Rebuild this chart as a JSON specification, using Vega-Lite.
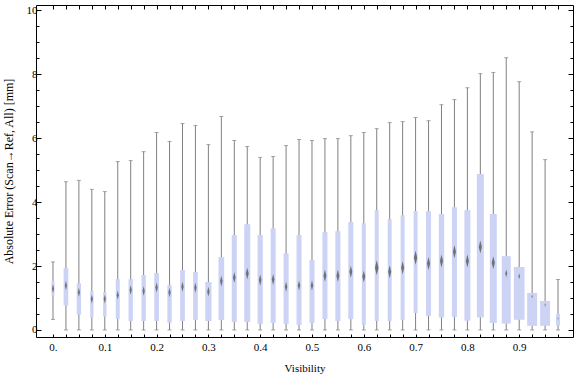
{
  "$schema": "https://vega.github.io/schema/vega-lite/v6.json",
  "width": 537,
  "height": 332,
  "autosize": {"type": "none"},
  "padding": {"left": 36, "top": 5, "right": 3, "bottom": 40},
  "background": "white",
  "config": {
    "view": {"stroke": "#000000", "strokeWidth": 1},
    "axis": {
      "domain": false,
      "grid": false,
      "labelFont": "Liberation Serif",
      "labelFontSize": 11,
      "labelColor": "#000000",
      "titleFont": "Liberation Serif",
      "titleFontSize": 11,
      "titleFontWeight": "normal",
      "titleColor": "#000000",
      "tickColor": "#000000",
      "tickWidth": 1
    }
  },
  "data": {
    "values": [
      {"v": 0.000, "lo": 0.33, "q1": 1.08, "med": 1.29, "q3": 1.54, "hi": 2.13, "n": 0.25, "ci": 0.140},
      {"v": 0.025, "lo": 0, "q1": 0.77, "med": 1.39, "q3": 1.93, "hi": 4.64, "n": 0.39, "ci": 0.140},
      {"v": 0.050, "lo": 0, "q1": 0.48, "med": 1.18, "q3": 1.46, "hi": 4.68, "n": 0.36, "ci": 0.140},
      {"v": 0.075, "lo": 0, "q1": 0.39, "med": 0.97, "q3": 1.22, "hi": 4.40, "n": 0.28, "ci": 0.140},
      {"v": 0.100, "lo": 0, "q1": 0.42, "med": 0.97, "q3": 1.18, "hi": 4.33, "n": 0.28, "ci": 0.140},
      {"v": 0.125, "lo": 0, "q1": 0.34, "med": 1.09, "q3": 1.59, "hi": 5.27, "n": 0.33, "ci": 0.140},
      {"v": 0.150, "lo": 0, "q1": 0.28, "med": 1.25, "q3": 1.59, "hi": 5.30, "n": 0.36, "ci": 0.148},
      {"v": 0.175, "lo": 0, "q1": 0.28, "med": 1.22, "q3": 1.72, "hi": 5.58, "n": 0.36, "ci": 0.148},
      {"v": 0.200, "lo": 0, "q1": 0.28, "med": 1.33, "q3": 1.78, "hi": 6.18, "n": 0.39, "ci": 0.156},
      {"v": 0.225, "lo": 0, "q1": 0.22, "med": 1.17, "q3": 1.41, "hi": 5.90, "n": 0.36, "ci": 0.148},
      {"v": 0.250, "lo": 0, "q1": 0.28, "med": 1.35, "q3": 1.88, "hi": 6.46, "n": 0.39, "ci": 0.156},
      {"v": 0.275, "lo": 0, "q1": 0.31, "med": 1.32, "q3": 1.81, "hi": 6.40, "n": 0.39, "ci": 0.156},
      {"v": 0.300, "lo": 0, "q1": 0.28, "med": 1.20, "q3": 1.50, "hi": 5.80, "n": 0.52, "ci": 0.156},
      {"v": 0.325, "lo": 0, "q1": 0.31, "med": 1.53, "q3": 2.28, "hi": 6.68, "n": 0.47, "ci": 0.167},
      {"v": 0.350, "lo": 0, "q1": 0.25, "med": 1.64, "q3": 2.97, "hi": 5.93, "n": 0.42, "ci": 0.172},
      {"v": 0.375, "lo": 0, "q1": 0.25, "med": 1.77, "q3": 3.31, "hi": 5.74, "n": 0.50, "ci": 0.188},
      {"v": 0.400, "lo": 0, "q1": 0.19, "med": 1.56, "q3": 2.97, "hi": 5.40, "n": 0.44, "ci": 0.172},
      {"v": 0.425, "lo": 0, "q1": 0.22, "med": 1.58, "q3": 3.18, "hi": 5.43, "n": 0.42, "ci": 0.172},
      {"v": 0.450, "lo": 0, "q1": 0.19, "med": 1.35, "q3": 2.40, "hi": 5.77, "n": 0.42, "ci": 0.156},
      {"v": 0.475, "lo": 0, "q1": 0.16, "med": 1.39, "q3": 2.97, "hi": 5.96, "n": 0.42, "ci": 0.156},
      {"v": 0.500, "lo": 0, "q1": 0.22, "med": 1.39, "q3": 2.19, "hi": 5.93, "n": 0.42, "ci": 0.156},
      {"v": 0.525, "lo": 0, "q1": 0.34, "med": 1.70, "q3": 3.06, "hi": 5.99, "n": 0.42, "ci": 0.188},
      {"v": 0.550, "lo": 0, "q1": 0.28, "med": 1.70, "q3": 3.09, "hi": 5.99, "n": 0.42, "ci": 0.188},
      {"v": 0.575, "lo": 0, "q1": 0.34, "med": 1.82, "q3": 3.38, "hi": 6.08, "n": 0.42, "ci": 0.188},
      {"v": 0.600, "lo": 0, "q1": 0.16, "med": 1.67, "q3": 3.34, "hi": 6.18, "n": 0.33, "ci": 0.188},
      {"v": 0.625, "lo": 0, "q1": 0.28, "med": 1.95, "q3": 3.75, "hi": 6.30, "n": 0.33, "ci": 0.234},
      {"v": 0.650, "lo": 0, "q1": 0.28, "med": 1.82, "q3": 3.47, "hi": 6.49, "n": 0.33, "ci": 0.203},
      {"v": 0.675, "lo": 0, "q1": 0.31, "med": 1.95, "q3": 3.59, "hi": 6.52, "n": 0.33, "ci": 0.203},
      {"v": 0.700, "lo": 0, "q1": 0.53, "med": 2.26, "q3": 3.72, "hi": 6.65, "n": 0.33, "ci": 0.219},
      {"v": 0.725, "lo": 0, "q1": 0.44, "med": 2.08, "q3": 3.72, "hi": 6.55, "n": 0.42, "ci": 0.203},
      {"v": 0.750, "lo": 0, "q1": 0.39, "med": 2.16, "q3": 3.63, "hi": 7.05, "n": 0.44, "ci": 0.203},
      {"v": 0.775, "lo": 0, "q1": 0.41, "med": 2.45, "q3": 3.84, "hi": 7.21, "n": 0.42, "ci": 0.203},
      {"v": 0.800, "lo": 0, "q1": 0.29, "med": 2.16, "q3": 3.75, "hi": 7.58, "n": 0.50, "ci": 0.203},
      {"v": 0.825, "lo": 0, "q1": 0.39, "med": 2.60, "q3": 4.88, "hi": 8.02, "n": 0.58, "ci": 0.203},
      {"v": 0.850, "lo": 0, "q1": 0.22, "med": 2.10, "q3": 3.63, "hi": 8.06, "n": 0.58, "ci": 0.203},
      {"v": 0.875, "lo": 0, "q1": 0.20, "med": 1.77, "q3": 2.31, "hi": 8.52, "n": 0.75, "ci": 0.125},
      {"v": 0.900, "lo": 0, "q1": 0.32, "med": 1.68, "q3": 1.97, "hi": 7.77, "n": 0.89, "ci": 0.094},
      {"v": 0.925, "lo": 0, "q1": 0.13, "med": 1.05, "q3": 1.16, "hi": 6.20, "n": 0.83, "ci": 0.0625},
      {"v": 0.950, "lo": 0, "q1": 0.13, "med": 0.78, "q3": 0.91, "hi": 5.33, "n": 0.83, "ci": 0.0625},
      {"v": 0.975, "lo": 0, "q1": 0.13, "med": 0.36, "q3": 0.50, "hi": 1.58, "n": 0.33, "ci": 0.047}
    ]
  },
  "layer": [
    {
      "mark": {"type": "rule", "color": "#808080", "strokeWidth": 1},
      "encoding": {
        "x": {
          "field": "v", "type": "quantitative",
          "scale": {"domain": [-0.0328, 1.0039], "nice": false, "zero": false, "padding": 0},
          "axis": {
            "orient": "bottom",
            "title": "Visibility",
            "values": [0,0.025,0.05,0.075,0.1,0.125,0.15,0.175,0.2,0.225,0.25,0.275,0.3,0.325,0.35,0.375,0.4,0.425,0.45,0.475,0.5,0.525,0.55,0.575,0.6,0.625,0.65,0.675,0.7,0.725,0.75,0.775,0.8,0.825,0.85,0.875,0.9,0.925,0.95,0.975],
            "tickSize": -3,
            "labelPadding": 7,
            "labelOverlap": false,
            "labelFlush": false,
            "labelExpr": "abs(datum.value*10 - round(datum.value*10)) < 0.001 ? (datum.value == 0 ? '0.' : format(datum.value, '.1f')) : ''",
            "titlePadding": 10
          }
        },
        "y": {
          "field": "lo", "type": "quantitative",
          "scale": {"domain": [-0.22, 10.17], "nice": false, "zero": false, "padding": 0},
          "axis": {
            "orient": "left",
            "title": "Absolute Error (Scan\u2192Ref, All) [mm]",
            "titleFontSize": 12,
            "values": [0,0.5,1,1.5,2,2.5,3,3.5,4,4.5,5,5.5,6,6.5,7,7.5,8,8.5,9,9.5,10],
            "tickSize": {"condition": {"test": "datum.value % 2 === 0", "value": -5}, "value": -3},
            "labelPadding": 4,
            "labelOverlap": false,
            "labelFlush": false,
            "labelExpr": "datum.value % 2 === 0 ? format(datum.value, 'd') : ''",
            "titlePadding": 11
          }
        },
        "y2": {"field": "hi"}
      }
    },
    {
      "mark": {"type": "tick", "orient": "horizontal", "color": "#808080", "thickness": 1, "size": 4},
      "encoding": {
        "x": {
          "field": "v", "type": "quantitative",
          "axis": {
            "orient": "top",
            "title": null,
            "values": [0,0.025,0.05,0.075,0.1,0.125,0.15,0.175,0.2,0.225,0.25,0.275,0.3,0.325,0.35,0.375,0.4,0.425,0.45,0.475,0.5,0.525,0.55,0.575,0.6,0.625,0.65,0.675,0.7,0.725,0.75,0.775,0.8,0.825,0.85,0.875,0.9,0.925,0.95,0.975],
            "tickSize": -4,
            "labels": false
          }
        },
        "y": {
          "field": "hi", "type": "quantitative",
          "axis": {
            "orient": "right",
            "title": null,
            "values": [0,0.5,1,1.5,2,2.5,3,3.5,4,4.5,5,5.5,6,6.5,7,7.5,8,8.5,9,9.5,10],
            "tickSize": {"condition": {"test": "datum.value % 2 === 0", "value": -5}, "value": -3},
            "labels": false
          }
        }
      }
    },
    {
      "mark": {"type": "tick", "orient": "horizontal", "color": "#808080", "thickness": 1, "size": 4},
      "encoding": {
        "x": {"field": "v", "type": "quantitative", "axis": null},
        "y": {"field": "lo", "type": "quantitative", "axis": null}
      }
    },
    {
      "mark": {"type": "bar", "color": "#ccd3f5", "opacity": 1},
      "encoding": {
        "x": {"field": "v", "type": "quantitative", "axis": null},
        "y": {"field": "q1", "type": "quantitative", "axis": null},
        "y2": {"field": "q3"},
        "size": {"field": "n", "type": "quantitative", "scale": {"domain": [0, 1], "range": [0, 12]}, "legend": null}
      }
    },
    {
      "mark": {"type": "point", "filled": true, "shape": "M0,-1L0.24,0L0,1L-0.24,0Z", "color": "#666666", "opacity": 0.9, "strokeWidth": 0},
      "encoding": {
        "x": {"field": "v", "type": "quantitative", "axis": null},
        "y": {"field": "med", "type": "quantitative", "axis": null},
        "size": {"field": "ci", "type": "quantitative", "scale": {"type": "pow", "exponent": 2, "domain": [0, 0.25], "range": [0, 256]}, "legend": null}
      }
    }
  ],
  "resolve": {"axis": {"x": "independent", "y": "independent"}, "scale": {"size": "independent"}}
}
